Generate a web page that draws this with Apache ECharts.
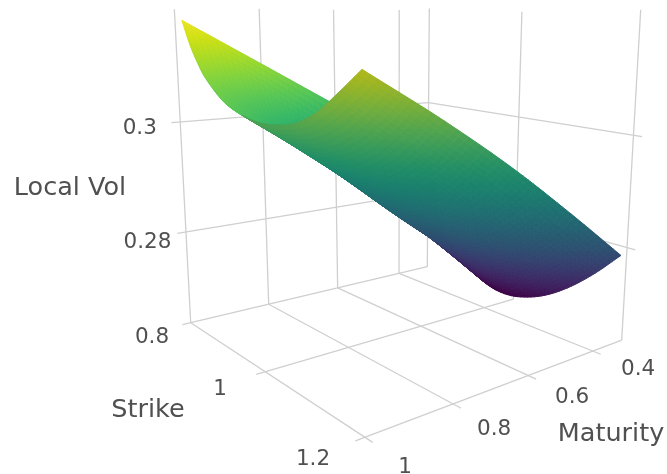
<!DOCTYPE html>
<html><head><meta charset="utf-8">
<style>html,body{margin:0;padding:0;background:#fff}#c{width:667px;height:474px}</style>
<script src="https://cdn.jsdelivr.net/npm/echarts@6/dist/echarts.min.js"></script>
</head><body><div id="c"></div>
<script>
// ---- data ----
const strikes = [0.82,0.84,0.86,0.88,0.92,0.96,1.00,1.04,1.08,1.12,1.16,1.20];
const maturities = [1,0.83,0.66,0.49,0.32];
const volT100 = [0.31764,0.31362,0.31061,0.30834,0.30539,0.30392,0.30326,0.30349,0.30437,0.30647,0.30970,0.31322];
const volT083 = [0.31038,0.30437,0.30111,0.29875,0.29629,0.29529,0.29410,0.29410,0.29521,0.29762,0.30125,0.30567];
const volT066 = [0.30306,0.29510,0.29161,0.28914,0.28718,0.28548,0.28423,0.28469,0.28605,0.28877,0.29274,0.29745];
const volT049 = [0.29575,0.28582,0.28211,0.27953,0.27714,0.27567,0.27459,0.27516,0.27675,0.27950,0.28347,0.28836];
const volT032 = [0.28849,0.27658,0.27261,0.26994,0.26645,0.26436,0.26396,0.26501,0.26710,0.27022,0.27419,0.27885];
const vols = [volT100,volT083,volT066,volT049,volT032];
const strikeTicks = [0.8,1,1.2];
const maturityTicks = [1,0.8,0.6,0.4];
const volTicks = [0.28,0.3];
const strikeTickLabels = ['0.8','1','1.2'];
const maturityTickLabels = ['1','0.8','0.6','0.4'];
const volTickLabels = ['0.28','0.3'];
// ---- scene ranges and camera ----
const K0=0.8,K1=1.2,T0=0.3,T1=1,Z0=0.26268,Z1=0.3194;
const CX=[190.7,82.4,334.5,-29.2],CY=[322.7,4.5,5.1,-314.1],CG=[-0.2518,0.2291,-0.0737];
function norm(k,t,z){return [(k-K0)/(K1-K0),(T1-t)/(T1-T0),(z-Z0)/(Z1-Z0)];}
function depth(k,t,z){const n=norm(k,t,z);return 1+CG[0]*n[0]+CG[1]*n[1]+CG[2]*n[2];}
function proj(k,t,z){const n=norm(k,t,z),d=depth(k,t,z);
  return [(CX[0]+CX[1]*n[0]+CX[2]*n[1]+CX[3]*n[2])/d,(CY[0]+CY[1]*n[0]+CY[2]*n[1]+CY[3]*n[2])/d];}
const VIR=['#440154','#48186a','#472d7b','#424086','#3b528b','#33638d','#2c728e','#26828e','#21918c','#1fa088','#28ae80','#3fbc73','#5ec962','#84d44b','#addc30','#d8e219','#fde725'].map(h=>[1,3,5].map(i=>parseInt(h.substr(i,2),16)));
function vir(c,sh){c=Math.max(0,Math.min(1,c))*(VIR.length-1);const i=Math.min(VIR.length-2,Math.floor(c)),f=c-i;
  const r=[0,1,2].map(k=>(VIR[i][k]*(1-f)+VIR[i+1][k]*f)*sh[k]);
  return 'rgb('+r.map(x=>Math.round(Math.min(255,x))).join(',')+')';}
const SH_TOP=[0.94,0.99,0.88],SH_UNDER=[0.88,0.82,0.80];
let zmin=1e9,zmax=-1e9;vols.forEach(r=>r.forEach(z=>{zmin=Math.min(zmin,z);zmax=Math.max(zmax,z);}));
// ---- grid lines ----
const EXT_T=0.02,EXT_K=0.013;
const lines=[];
function seg(a,b){const p=proj(a[0],a[1],a[2]),q=proj(b[0],b[1],b[2]);lines.push([p[0],p[1],q[0],q[1]]);}
const WALL_TOP_EXTRA=[0,0.004,0.004,0.006,0.012];
const RIGHT_TOP_EXTRA=[0.012,0.03];
strikeTicks.forEach(k=>seg([k,T1+EXT_T,Z0],[k,T0,Z0]));
maturityTicks.forEach(t=>seg([K0,t,Z0],[K1+EXT_K,t,Z0]));
maturityTicks.concat([T0]).forEach((t,i)=>seg([K0,t,Z0],[K0,t,Z1+(Z1-Z0)*WALL_TOP_EXTRA[i]]));
strikeTicks.slice(1).forEach((k,i)=>seg([k,T0,Z0],[k,T0,Z1+(Z1-Z0)*RIGHT_TOP_EXTRA[i]]));
volTicks.forEach(z=>{seg([K0,T1+EXT_T,z],[K0,T0,z]);seg([K0,T0,z],[K1+EXT_K,T0,z]);});
// ---- smoothed patches: each data cell is shaded as a smooth spline patch ----
function cr(a,b,c,d,t){return 0.5*(2*b+(c-a)*t+(2*a-5*b+4*c-d)*t*t+(3*b-a-3*c+d)*t*t*t);}
function at1(arr,i){const n=arr.length;if(i<0)return 2*arr[0]-arr[1];if(i>=n)return 2*arr[n-1]-arr[n-2];return arr[i];}
function spl1(arr,i,t){return cr(at1(arr,i-1),at1(arr,i),at1(arr,i+1),at1(arr,i+2),t);}
function rowVal(ri,j,t){return spl1(vols[ri],j,t);}
function zAt(i,s,j,t){
  const g=r=>{const n=vols.length;if(r<0)return 2*rowVal(0,j,t)-rowVal(1,j,t);if(r>=n)return 2*rowVal(n-1,j,t)-rowVal(n-2,j,t);return rowVal(r,j,t);};
  return cr(g(i-1),g(i),g(i+1),g(i+2),s);
}
const NU=6,NV=12;
const cells=[];
for(let i=0;i<maturities.length-1;i++)for(let j=0;j<strikes.length-1;j++){
  const id=[[i,j],[i,j+1],[i+1,j+1],[i+1,j]];
  cells.push({i,j,d:id.reduce((s,a)=>s+depth(strikes[a[1]],maturities[a[0]],vols[a[0]][a[1]]),0)/4});
}
cells.sort((a,b)=>b.d-a.d);
function area(p){let s=0;for(let i=0;i<p.length;i++){const q=p[(i+1)%p.length];s+=p[i][0]*q[1]-q[0]*p[i][1];}return s;}
function renderCell(params,api){
  const cell=cells[params.dataIndex],i=cell.i,j=cell.j;
  const pt=(a,b)=>{const s=a/NV,t=b/NU;return [spl1(strikes,j,t),spl1(maturities,i,s),zAt(i,s,j,t)];};
  const subs=[];
  for(let a=0;a<NV;a++)for(let b=0;b<NU;b++){
    const q=[pt(a,b),pt(a,b+1),pt(a+1,b+1),pt(a+1,b)];
    subs.push({q,d:q.reduce((s,p)=>s+depth(p[0],p[1],p[2]),0)/4});
  }
  subs.sort((x,y)=>y.d-x.d);
  const children=subs.map(o=>{
    const pts=o.q.map(p=>api.coord(proj(p[0],p[1],p[2])));
    const floor=o.q.map(p=>api.coord(proj(p[0],p[1],Z0)));
    const top=area(pts)*area(floor)>0;
    const c=o.q.reduce((s,p)=>s+(p[2]-zmin)/(zmax-zmin),0)/4;
    const fill=vir(c,top?SH_TOP:SH_UNDER);
    return {type:'polygon',shape:{points:pts},style:{fill:fill,stroke:fill,lineWidth:1,lineJoin:'round'}};
  });
  return {type:'group',children};
}
function renderLine(params,api){
  const p=api.coord([api.value(0),api.value(1)]),q=api.coord([api.value(2),api.value(3)]);
  return {type:'line',shape:{x1:p[0],y1:p[1],x2:q[0],y2:q[1]},style:{stroke:'#cfcfcf',lineWidth:1.3}};
}
// ---- text ----
const TICK_FS=21.5,TITLE_FS=25.5,FONT='"DejaVu Sans"';
const texts=[];
const strikeOff=[[-38.7,14.3],[-45.3,17.2],[-52,21.7]];
const matOff=[[40,29.7],[41,25],[44,21.5],[45.4,18]];
const volOff=[[-38.5,10],[-40.5,6]];
strikeTicks.forEach((k,i)=>{const p=proj(k,T1,Z0);texts.push([p[0]+strikeOff[i][0],p[1]+strikeOff[i][1],strikeTickLabels[i],TICK_FS]);});
maturityTicks.forEach((t,i)=>{const p=proj(K1,t,Z0);texts.push([p[0]+matOff[i][0],p[1]+matOff[i][1],maturityTickLabels[i],TICK_FS]);});
volTicks.forEach((z,i)=>{const p=proj(K0,T1,z);texts.push([p[0]+volOff[i][0],p[1]+volOff[i][1],volTickLabels[i],TICK_FS]);});
const titles=[['Local Vol',70,188],['Strike',148,410],['Maturity',611,434]];
titles.forEach(t=>texts.push([t[1],t[2],t[0],TITLE_FS]));
function renderText(params,api){
  const t=texts[params.dataIndex],p=api.coord([t[0],t[1]]);
  return {type:'text',x:p[0],y:p[1],style:{text:t[2],fill:'#505050',font:t[3]+'px '+FONT,align:'center',verticalAlign:'middle'}};
}
const chart=echarts.init(document.getElementById('c'),null,{renderer:'canvas'});
chart.setOption({
  animation:false,backgroundColor:'#fff',
  grid:{left:0,right:0,top:0,bottom:0},
  xAxis:{type:'value',min:0,max:667,show:false},
  yAxis:{type:'value',min:0,max:474,inverse:true,show:false},
  series:[
    {type:'custom',name:'grid',coordinateSystem:'cartesian2d',clip:false,silent:true,z:1,renderItem:renderLine,data:lines,encode:{x:0,y:1}},
    {type:'custom',name:'Local Vol',coordinateSystem:'cartesian2d',clip:false,silent:true,z:2,renderItem:renderCell,data:cells.map((c,i)=>[i]),encode:{x:0}},
    {type:'custom',name:'labels',coordinateSystem:'cartesian2d',clip:false,silent:true,z:3,renderItem:renderText,data:texts.map(t=>[t[0],t[1]]),encode:{x:0,y:1}}
  ]
});
</script></body></html>
